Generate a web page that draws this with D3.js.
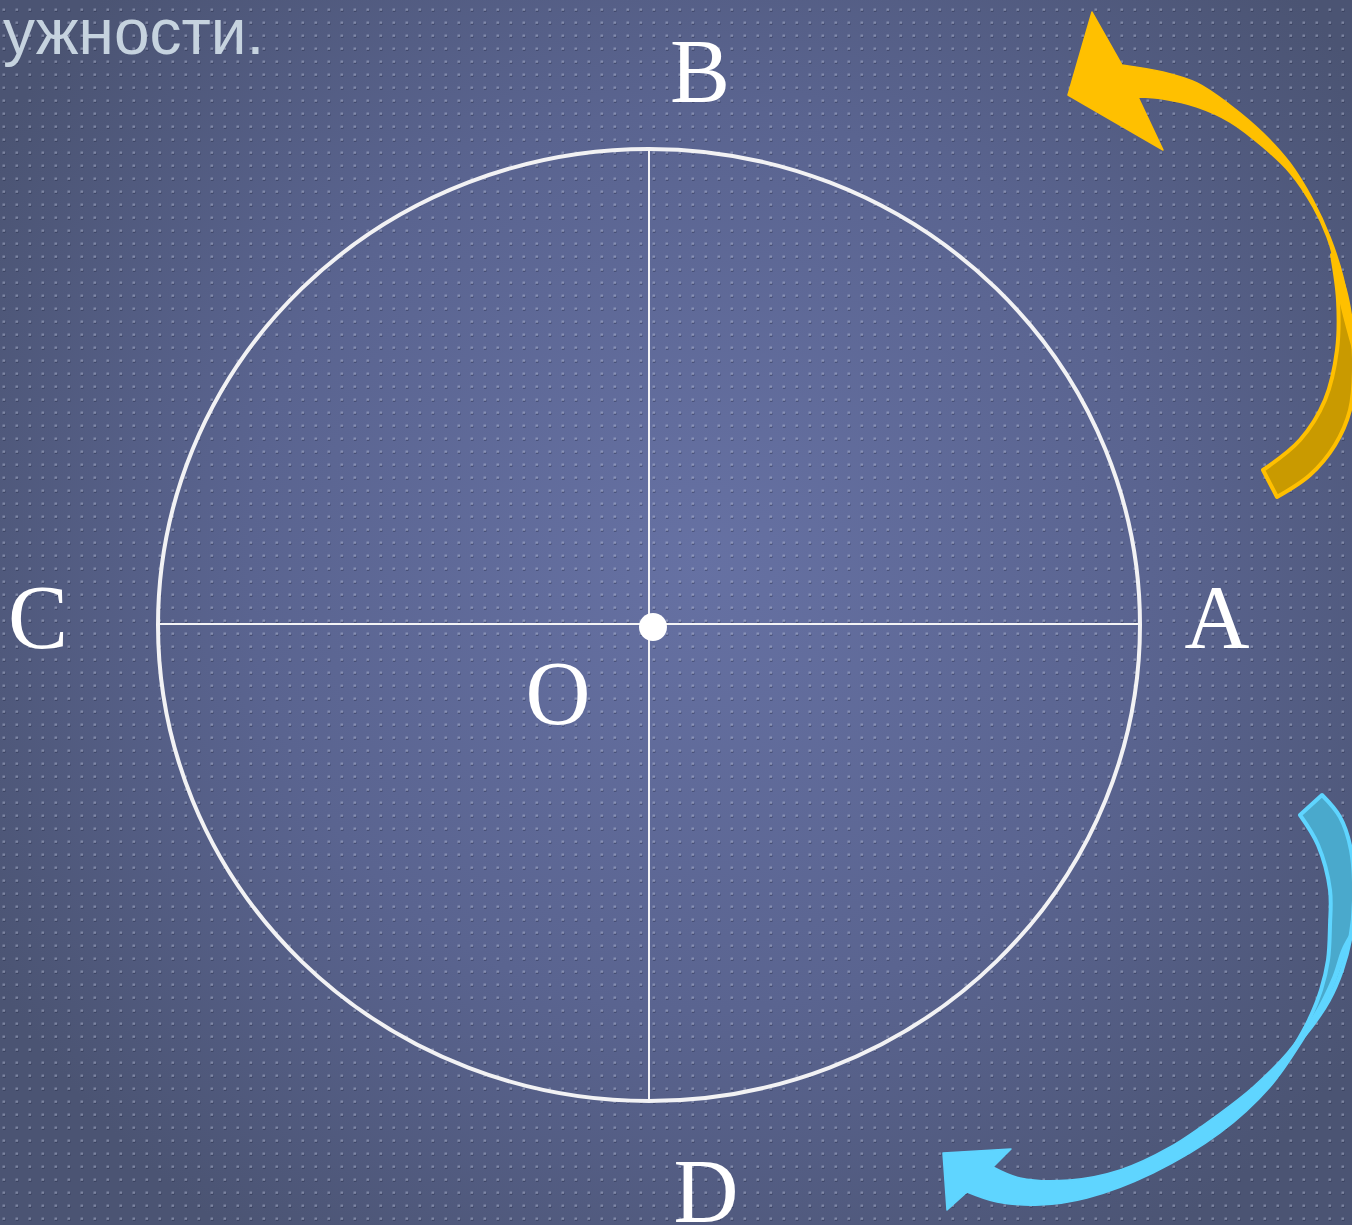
<!DOCTYPE html>
<html>
<head>
<meta charset="utf-8">
<script src="https://cdn.jsdelivr.net/npm/d3@7"></script>
<style>
  html, body { margin: 0; padding: 0; background: #4e5778; overflow: hidden; }
  svg { display: block; }
</style>
</head>
<body>
<svg id="chart" width="1352" height="1225"></svg>
<script>
// diagram units: offset from circle centre, y up
const radius = { x: 491, y: 476 };

const axes = [
  { name: 'CA', from: [-491, 1], to: [491, 1] },
  { name: 'BD', from: [0, 476], to: [0, -476] }
];

const labels = [
  { text: 'A', x: 568, y: -23 },
  { text: 'B', x: 51, y: 523 },
  { text: 'C', x: -611, y: -23 },
  { text: 'D', x: 57, y: -597 },
  { text: 'O', x: -91, y: -99 }
];

const centre = [4, -2];

const caption = 'ужности.';

// yellow curved arrow (upper right): back face, head, front band edges
const yellowBackOuter = [
  [683, 370], [696, 335], [703, 295], [705, 255], [701, 215], [686, 180], [661, 150], [628, 128]
];
const yellowBackInner = [
  [614, 155], [651, 185], [676, 225], [688, 275], [689, 325], [683, 370]
];
const yellowHead = [[489, 528], [514, 475], [419, 530], [443, 613], [473, 560]];
const yellowOuter = [
  [473, 560], [514, 553], [548, 542], [581, 520], [614, 492], [641, 462], [664, 425],
  [681, 388], [694, 348], [701, 308], [704, 275]
];
const yellowInner = [
  [704, 275], [691, 325], [684, 368], [678, 388], [664, 418], [641, 452], [614, 478],
  [581, 503], [548, 518], [514, 526], [489, 528]
];

// blue curved arrow (lower right)
const blueBackOuter = [
  [673, -170], [691, -192], [702, -225], [705, -275], [701, -315], [693, -345], [680, -375],
  [662, -402], [645, -422]
];
const blueBackInner = [
  [645, -422], [660, -395], [672, -365], [679, -335], [681, -300], [681, -265], [669, -220],
  [651, -190]
];
const blueHead = [[318, -567], [298, -585], [294, -528], [362, -524], [344, -542]];
const blueInner = [
  [344, -542], [371, -553], [421, -555], [471, -545], [521, -522], [571, -488], [604, -462],
  [638, -428], [664, -392], [684, -352], [693, -325], [701, -310]
];
const blueOuter = [
  [701, -310], [696, -328], [681, -368], [654, -415], [621, -462], [571, -508], [504, -548],
  [438, -573], [391, -580], [348, -577], [318, -567]
];

const width = 1352;
const height = 1225;
const svg = d3.select('#chart');

const x = d3.scaleLinear().domain([-radius.x, radius.x]).range([158, 1140]);
const y = d3.scaleLinear().domain([-radius.y, radius.y]).range([1101, 149]);

const defs = svg.append('defs');

const bg = defs.append('radialGradient')
  .attr('id', 'bg')
  .attr('gradientUnits', 'userSpaceOnUse')
  .attr('cx', 700).attr('cy', 560).attr('r', 820);
bg.append('stop').attr('offset', 0).attr('stop-color', '#6671a3');
bg.append('stop').attr('offset', 0.55).attr('stop-color', '#5a6490');
bg.append('stop').attr('offset', 1).attr('stop-color', '#4b5473');

const dots = defs.append('pattern')
  .attr('id', 'dots')
  .attr('patternUnits', 'userSpaceOnUse')
  .attr('x', 0).attr('y', 0)
  .attr('width', 13).attr('height', 13);
dots.append('rect').attr('x', 3).attr('y', 10).attr('width', 2.5).attr('height', 2)
  .attr('fill', 'rgba(30,35,60,0.35)');
dots.append('rect').attr('x', 2.5).attr('y', 8.5).attr('width', 2.5).attr('height', 2.5)
  .attr('fill', 'rgba(190,198,225,0.42)');

svg.append('rect').attr('width', width).attr('height', height).attr('fill', 'url(#bg)');
svg.append('rect').attr('width', width).attr('height', height).attr('fill', 'url(#dots)');

// caption fragment at top left
svg.append('text')
  .attr('x', 3)
  .attr('y', 54)
  .attr('font-family', '"Liberation Sans", Arial, sans-serif')
  .attr('font-size', 64)
  .attr('fill', '#c6d3df')
  .text(caption);

// circle and diameters
svg.append('ellipse')
  .attr('cx', x(0))
  .attr('cy', y(0))
  .attr('rx', x(radius.x) - x(0))
  .attr('ry', y(0) - y(radius.y))
  .attr('fill', 'none')
  .attr('stroke', '#f2f2f4')
  .attr('stroke-width', 4);

svg.selectAll('line.axis')
  .data(axes)
  .join('line')
  .attr('class', 'axis')
  .attr('x1', (d) => x(d.from[0]))
  .attr('y1', (d) => y(d.from[1]))
  .attr('x2', (d) => x(d.to[0]))
  .attr('y2', (d) => y(d.to[1]))
  .attr('stroke', '#f4f4f6')
  .attr('stroke-width', 2);

svg.append('circle')
  .attr('cx', x(centre[0]))
  .attr('cy', y(centre[1]))
  .attr('r', 14)
  .attr('fill', '#ffffff');

svg.selectAll('text.label')
  .data(labels)
  .join('text')
  .attr('class', 'label')
  .attr('x', (d) => x(d.x))
  .attr('y', (d) => y(d.y))
  .attr('text-anchor', 'middle')
  .attr('font-family', '"Liberation Serif", "DejaVu Serif", serif')
  .attr('font-size', 90)
  .attr('fill', '#ffffff')
  .text((d) => d.text);

// arrows
const toPx = (p) => [x(p[0]), y(p[1])];
const smooth = d3.line().curve(d3.curveCatmullRom.alpha(0.5));
const straight = d3.line();

function joinEdges(first, ...rest) {
  let d = first;
  rest.forEach((s) => { d += s.replace(/^M/, 'L'); });
  return d + 'Z';
}

function drawArrow(backOuter, backInner, head, edgeA, edgeB, dark, bright) {
  svg.append('path')
    .attr('d', joinEdges(smooth(backOuter.map(toPx)), smooth(backInner.map(toPx))))
    .attr('fill', dark)
    .attr('stroke', bright)
    .attr('stroke-width', 4)
    .attr('stroke-linejoin', 'round');
  svg.append('path')
    .attr('d', joinEdges(straight(head.map(toPx)), smooth(edgeA.map(toPx)), smooth(edgeB.map(toPx))))
    .attr('fill', bright)
    .attr('stroke', bright)
    .attr('stroke-width', 1.5)
    .attr('stroke-linejoin', 'round');
}

drawArrow(yellowBackOuter, yellowBackInner, yellowHead, yellowOuter, yellowInner, '#c99a00', '#ffc000');
drawArrow(blueBackOuter, blueBackInner, blueHead, blueInner, blueOuter, '#4aa9cc', '#5fd5ff');
</script>
</body>
</html>
